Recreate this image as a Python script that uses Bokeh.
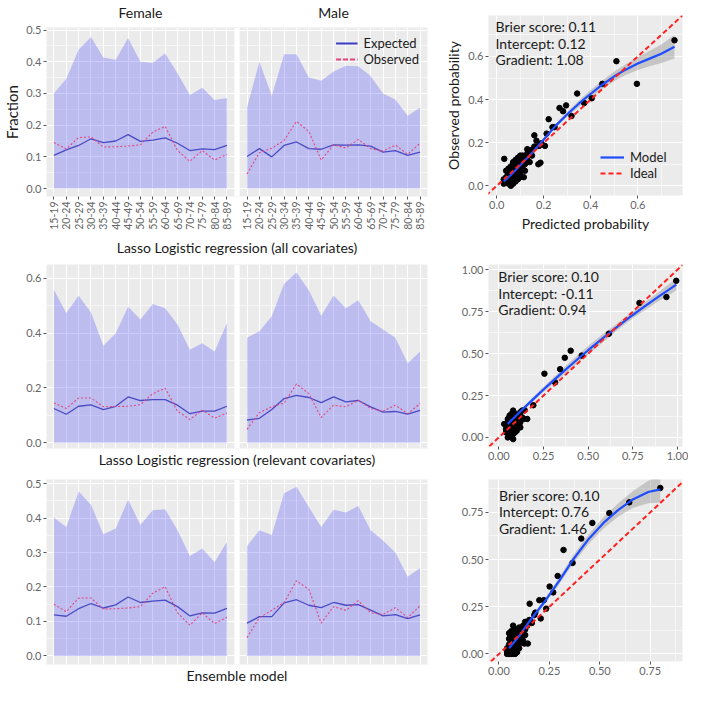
import math
from bokeh.plotting import figure
from bokeh.layouts import row, column
from bokeh.models import (Range1d, FixedTicker, LinearAxis, Legend, LegendItem,
                          Label, Slope, BoxAnnotation, PrintfTickFormatter)
from bokeh.embed import file_html
from bokeh.resources import INLINE

FONT = "Lato"
BG = "#EBEBEB"
TICK_C = "#666666"
TXT_C = "#1a1a1a"
EXP_C = "#4a4ac4"
OBS_C = "#e4457c"
BLUE = "#1f4cff"
RED = "#ff2020"

# ---------------- data ----------------
age_groups = ["15-19", "20-24", "25-29", "30-34", "35-39", "40-44", "45-49", "50-54",
              "55-59", "60-64", "65-69", "70-74", "75-79", "80-84", "85-89"]
sexes = ["Female", "Male"]
row_titles = ["Lasso Logistic regression (all covariates)",
              "Lasso Logistic regression (relevant covariates)",
              "Ensemble model"]

r1_female_upper = [0.300, 0.346, 0.438, 0.478, 0.413, 0.406, 0.475, 0.400, 0.397, 0.426, 0.364, 0.295, 0.318, 0.279, 0.286]
r1_female_expected = [0.105, 0.122, 0.136, 0.157, 0.145, 0.150, 0.170, 0.149, 0.153, 0.160, 0.143, 0.120, 0.125, 0.123, 0.136]
r1_female_observed = [0.145, 0.125, 0.161, 0.163, 0.131, 0.132, 0.134, 0.138, 0.178, 0.196, 0.120, 0.086, 0.120, 0.090, 0.108]
r1_male_upper = [0.256, 0.400, 0.293, 0.424, 0.424, 0.350, 0.340, 0.369, 0.387, 0.386, 0.355, 0.300, 0.281, 0.230, 0.256]
r1_male_expected = [0.101, 0.126, 0.100, 0.136, 0.147, 0.126, 0.124, 0.138, 0.137, 0.138, 0.134, 0.115, 0.120, 0.105, 0.115]
r1_male_observed = [0.046, 0.113, 0.127, 0.152, 0.212, 0.180, 0.090, 0.138, 0.128, 0.155, 0.126, 0.118, 0.137, 0.108, 0.143]

r2_female_upper = [0.558, 0.473, 0.536, 0.475, 0.354, 0.399, 0.496, 0.449, 0.506, 0.490, 0.431, 0.339, 0.363, 0.333, 0.437]
r2_female_expected = [0.125, 0.104, 0.133, 0.138, 0.121, 0.133, 0.167, 0.154, 0.157, 0.157, 0.137, 0.106, 0.115, 0.115, 0.133]
r2_female_observed = [0.145, 0.125, 0.163, 0.163, 0.131, 0.132, 0.133, 0.139, 0.179, 0.199, 0.115, 0.085, 0.119, 0.090, 0.108]
r2_male_upper = [0.383, 0.407, 0.461, 0.580, 0.621, 0.556, 0.463, 0.537, 0.490, 0.520, 0.443, 0.413, 0.383, 0.290, 0.333]
r2_male_expected = [0.083, 0.089, 0.121, 0.161, 0.173, 0.165, 0.146, 0.167, 0.149, 0.154, 0.131, 0.112, 0.114, 0.104, 0.118]
r2_male_observed = [0.049, 0.110, 0.131, 0.145, 0.214, 0.179, 0.092, 0.137, 0.131, 0.155, 0.125, 0.115, 0.137, 0.106, 0.143]

r3_female_upper = [0.402, 0.374, 0.477, 0.439, 0.353, 0.370, 0.453, 0.381, 0.423, 0.426, 0.365, 0.290, 0.312, 0.272, 0.331]
r3_female_expected = [0.119, 0.115, 0.137, 0.152, 0.139, 0.148, 0.171, 0.155, 0.159, 0.162, 0.143, 0.116, 0.125, 0.124, 0.138]
r3_female_observed = [0.150, 0.128, 0.168, 0.168, 0.136, 0.137, 0.139, 0.143, 0.182, 0.201, 0.125, 0.089, 0.125, 0.094, 0.112]
r3_male_upper = [0.318, 0.365, 0.351, 0.472, 0.491, 0.432, 0.374, 0.424, 0.416, 0.435, 0.365, 0.335, 0.300, 0.230, 0.255]
r3_male_expected = [0.095, 0.114, 0.114, 0.154, 0.163, 0.147, 0.140, 0.155, 0.147, 0.149, 0.133, 0.116, 0.120, 0.108, 0.119]
r3_male_observed = [0.053, 0.111, 0.132, 0.155, 0.218, 0.193, 0.095, 0.143, 0.132, 0.160, 0.125, 0.120, 0.140, 0.111, 0.146]

# calibration panels
c1_pred = [0.756, 0.509, 0.596, 0.449, 0.404, 0.372, 0.342, 0.318, 0.295, 0.282, 0.267, 0.246, 0.237, 0.221,
           0.212, 0.205, 0.190, 0.180, 0.160, 0.169, 0.186, 0.177, 0.160, 0.147, 0.115, 0.032,
           0.03, 0.04, 0.04, 0.05, 0.05, 0.05, 0.06, 0.06, 0.06, 0.06, 0.07, 0.07, 0.07, 0.07, 0.08, 0.08, 0.08,
           0.08, 0.09, 0.09, 0.09, 0.10, 0.10, 0.10, 0.11, 0.11, 0.12, 0.12, 0.13, 0.13, 0.14, 0.14, 0.15, 0.05,
           0.06, 0.07, 0.08, 0.09, 0.10, 0.11, 0.04, 0.03, 0.06, 0.07, 0.09, 0.12, 0.13, 0.10, 0.08, 0.05]
c1_obs = [0.675, 0.578, 0.473, 0.473, 0.406, 0.384, 0.428, 0.324, 0.373, 0.346, 0.361, 0.272, 0.272, 0.309,
          0.242, 0.185, 0.197, 0.185, 0.234, 0.209, 0.107, 0.100, 0.182, 0.167, 0.040, 0.125,
          0.01, 0.02, 0.04, 0.01, 0.03, 0.06, 0.02, 0.05, 0.07, 0.09, 0.03, 0.06, 0.08, 0.11, 0.04, 0.07, 0.09,
          0.12, 0.05, 0.08, 0.13, 0.06, 0.09, 0.12, 0.08, 0.11, 0.10, 0.13, 0.12, 0.15, 0.11, 0.16, 0.14, 0.05,
          0.03, 0.10, 0.02, 0.10, 0.04, 0.14, 0.07, 0.03, 0.00, 0.01, 0.03, 0.07, 0.17, 0.14, 0.05, 0.08]
c1_fit_x = [0.03, 0.06, 0.10, 0.15, 0.20, 0.25, 0.30, 0.35, 0.40, 0.45, 0.50, 0.55, 0.60, 0.65, 0.70, 0.756]
c1_fit_y = [0.020, 0.050, 0.095, 0.152, 0.215, 0.278, 0.332, 0.382, 0.427, 0.470, 0.508, 0.540, 0.567, 0.590, 0.613, 0.645]
c1_fit_se = [0.006, 0.005, 0.005, 0.006, 0.008, 0.010, 0.012, 0.015, 0.018, 0.020, 0.022, 0.025, 0.030, 0.036, 0.043, 0.055]
c1_stats = ["Brier score: 0.11", "Intercept: 0.12", "Gradient: 1.08"]

c2_pred = [0.993, 0.938, 0.787, 0.616, 0.464, 0.402, 0.369, 0.343, 0.315, 0.255, 0.193, 0.144, 0.159,
           0.03, 0.04, 0.05, 0.05, 0.06, 0.06, 0.06, 0.07, 0.07, 0.07, 0.07, 0.08, 0.08, 0.08, 0.08, 0.08,
           0.09, 0.09, 0.09, 0.09, 0.10, 0.10, 0.10, 0.11, 0.11, 0.12, 0.12, 0.13, 0.05, 0.06, 0.07, 0.08,
           0.09, 0.10, 0.11, 0.04, 0.07, 0.08, 0.09, 0.12, 0.14, 0.06, 0.10, 0.13, 0.05]
c2_obs = [0.934, 0.837, 0.802, 0.618, 0.488, 0.517, 0.475, 0.407, 0.328, 0.380, 0.192, 0.163, 0.110,
          0.08, 0.03, 0.06, 0.11, 0.05, 0.09, 0.13, 0.04, 0.07, 0.10, 0.14, 0.02, 0.06, 0.08, 0.12, 0.16,
          0.05, 0.09, 0.11, 0.14, 0.04, 0.08, 0.12, 0.07, 0.10, 0.09, 0.15, 0.12, 0.00, 0.01, 0.02, -0.01,
          0.03, 0.06, 0.13, 0.05, 0.12, 0.10, 0.07, 0.06, 0.11, 0.07, 0.10, 0.16, 0.09]
c2_fit_x = [0.05, 0.10, 0.15, 0.20, 0.25, 0.30, 0.35, 0.40, 0.45, 0.50, 0.55, 0.60, 0.65, 0.70, 0.75,
            0.80, 0.85, 0.90, 0.95, 0.993]
c2_fit_y = [0.081, 0.134, 0.185, 0.236, 0.286, 0.334, 0.382, 0.429, 0.475, 0.520, 0.564, 0.607, 0.649,
            0.690, 0.730, 0.769, 0.807, 0.844, 0.880, 0.911]
c2_fit_se = [0.012, 0.012, 0.012, 0.014, 0.016, 0.018, 0.020, 0.022, 0.024, 0.025, 0.025, 0.024, 0.022,
             0.020, 0.020, 0.022, 0.025, 0.028, 0.032, 0.035]
c2_stats = ["Brier score: 0.10", "Intercept: -0.11", "Gradient: 0.94"]

c3_pred = [0.800, 0.646, 0.547, 0.463, 0.408, 0.365, 0.320, 0.291, 0.269, 0.251, 0.234, 0.222, 0.200,
           0.207, 0.180, 0.175, 0.152, 0.163, 0.143, 0.126,
           0.04, 0.04, 0.05, 0.05, 0.05, 0.05, 0.06, 0.06, 0.06, 0.06, 0.06, 0.07, 0.07, 0.07, 0.07, 0.08,
           0.08, 0.08, 0.08, 0.09, 0.09, 0.09, 0.10, 0.10, 0.10, 0.11, 0.11, 0.12, 0.12, 0.13, 0.13, 0.14,
           0.15, 0.16, 0.05, 0.06, 0.07, 0.08, 0.09, 0.11, 0.12, 0.10, 0.04, 0.07, 0.13, 0.06, 0.08]
c3_obs = [0.879, 0.803, 0.746, 0.694, 0.611, 0.482, 0.551, 0.413, 0.326, 0.357, 0.240, 0.285, 0.285,
          0.188, 0.219, 0.206, 0.266, 0.164, 0.055, 0.055,
          0.00, 0.03, 0.00, 0.02, 0.05, 0.08, 0.01, 0.03, 0.06, 0.09, 0.12, 0.00, 0.04, 0.07, 0.10, 0.02,
          0.05, 0.09, 0.13, 0.04, 0.08, 0.12, 0.06, 0.10, 0.14, 0.09, 0.12, 0.11, 0.15, 0.13, 0.17, 0.15,
          0.18, 0.17, 0.11, 0.00, 0.02, 0.00, 0.01, 0.06, 0.07, 0.03, 0.01, 0.15, 0.10, 0.04, 0.11]
c3_fit_x = [0.05, 0.10, 0.148, 0.222, 0.296, 0.370, 0.444, 0.518, 0.592, 0.666, 0.740, 0.800]
c3_fit_y = [0.030, 0.095, 0.168, 0.271, 0.383, 0.504, 0.608, 0.694, 0.763, 0.820, 0.858, 0.872]
c3_fit_se = [0.010, 0.010, 0.012, 0.015, 0.018, 0.022, 0.025, 0.030, 0.035, 0.045, 0.060, 0.070]
c3_stats = ["Brier score: 0.10", "Intercept: 0.76", "Gradient: 1.46"]

# ---------------- helpers ----------------
N = len(age_groups)
MALE_OFFSET = 15.625
x_female = [float(i) for i in range(N)]
x_male = [i + MALE_OFFSET for i in range(N)]
PAD = 0.6


def base_axes(p):
    for ax in p.axis:
        ax.axis_line_color = None
        ax.major_tick_line_color = "#555555"
        ax.major_tick_in = 0
        ax.major_tick_out = 3
        ax.minor_tick_line_color = None
        ax.major_label_text_font = FONT
        ax.major_label_text_color = TICK_C
        ax.major_label_text_font_size = "11px"
        ax.major_label_standoff = 2
        ax.axis_label_text_font = FONT
        ax.axis_label_text_font_style = "normal"
        ax.axis_label_text_color = TXT_C
        ax.axis_label_text_font_size = "14px"


def left_panel(height, yr, yticks, yminor, data, title, bt, bb, top=False):
    fu, fe, fo, mu, me, mo = data
    p = figure(width=442, height=height,
               x_range=Range1d(-PAD, N - 1 + MALE_OFFSET + PAD), y_range=Range1d(*yr),
               output_backend="svg", toolbar_location=None,
               background_fill_color=BG, border_fill_color="white", outline_line_color=None,
               min_border_left=29, min_border_right=15, min_border_top=bt, min_border_bottom=bb)
    base_axes(p)
    p.xgrid.ticker = FixedTicker(ticks=x_female + x_male)
    p.xgrid.grid_line_color = "white"
    p.xgrid.grid_line_width = 1
    p.ygrid.ticker = FixedTicker(ticks=yticks, minor_ticks=yminor)
    p.ygrid.grid_line_color = "white"
    p.ygrid.minor_grid_line_color = "white"
    p.ygrid.minor_grid_line_alpha = 0.55
    p.yaxis.ticker = FixedTicker(ticks=yticks)
    p.yaxis.formatter = PrintfTickFormatter(format="%.1f")
    # white strip between the two facets
    p.add_layout(BoxAnnotation(left=N - 1 + PAD, right=MALE_OFFSET - PAD,
                               fill_color="white", fill_alpha=1.0, line_color=None))

    for xs, up, ex, ob in ((x_female, fu, fe, fo), (x_male, mu, me, mo)):
        p.varea(x=xs, y1=0, y2=up, fill_color="blue", fill_alpha=0.2)
        p.line(xs, ex, line_color=EXP_C, line_width=1.3)
        p.line(xs, ob, line_color=OBS_C, line_width=1.1, line_dash="2 2")

    p.xaxis.axis_label = title
    p.xaxis.axis_label_standoff = 6 if top else 2
    if top:
        p.xaxis.ticker = FixedTicker(ticks=x_female + x_male)
        overrides = {}
        for i, lab in enumerate(age_groups):
            overrides[x_female[i]] = lab
            overrides[x_male[i]] = lab
        p.xaxis.major_label_overrides = overrides
        p.xaxis.major_label_orientation = math.pi / 2
        p.xaxis.major_label_text_font_size = "10.5px"
        p.yaxis.axis_label = "Fraction"
        p.yaxis.axis_label_standoff = 2
        p.yaxis.axis_label_text_font_size = "15px"
        centers = [(N - 1) / 2, (N - 1) / 2 + MALE_OFFSET]
        top_ax = LinearAxis(ticker=FixedTicker(ticks=centers),
                            major_label_overrides={centers[0]: sexes[0], centers[1]: sexes[1]},
                            axis_line_color=None, major_tick_line_color=None, minor_tick_line_color=None,
                            major_label_text_font=FONT, major_label_text_font_size="14px",
                            major_label_text_color=TXT_C, major_label_standoff=1)
        p.add_layout(top_ax, "above")
        nan = float("nan")
        pe = p.line([nan], [nan], line_color="#3c3cc8", line_width=2)
        po = p.line([nan], [nan], line_color=OBS_C, line_width=2, line_dash="5 2")
        leg = Legend(items=[LegendItem(label="Expected", renderers=[pe]),
                            LegendItem(label="Observed", renderers=[po])],
                     location="top_right", background_fill_alpha=0, border_line_color=None,
                     label_text_font=FONT, label_text_font_size="13px", label_text_color=TXT_C,
                     glyph_width=22, glyph_height=14, label_height=14, spacing=0, padding=2, margin=8,
                     label_standoff=6)
        p.add_layout(leg)
    else:
        p.xaxis.ticker = FixedTicker(ticks=[])
        p.xaxis.major_tick_line_color = None
    return p


def cal_panel(height, xr, yr, ticks, minor, fmt, px, py, fx, fy, fse, stats, stat_x, stat_y,
              bt, bb, bl, labels=False):
    p = figure(width=246, height=height, x_range=Range1d(*xr), y_range=Range1d(*yr),
               output_backend="svg", toolbar_location=None,
               background_fill_color=BG, border_fill_color="white", outline_line_color=None,
               min_border_left=bl, min_border_right=6, min_border_top=bt, min_border_bottom=bb)
    base_axes(p)
    for g in (p.xgrid, p.ygrid):
        g.ticker = FixedTicker(ticks=ticks, minor_ticks=minor)
        g.grid_line_color = "white"
        g.minor_grid_line_color = "white"
        g.minor_grid_line_alpha = 0.55
    for ax in p.axis:
        ax.ticker = FixedTicker(ticks=ticks)
        ax.formatter = PrintfTickFormatter(format=fmt)
    lo = [a - b for a, b in zip(fy, fse)]
    hi = [a + b for a, b in zip(fy, fse)]
    p.varea(x=fx, y1=lo, y2=hi, fill_color="#8c8c8c", fill_alpha=0.4)
    p.scatter(px, py, size=5.5, fill_color="black", line_color="black")
    rm = p.line(fx, fy, line_color=BLUE, line_width=2.2)
    p.add_layout(Slope(gradient=1, y_intercept=0, line_color=RED, line_width=2, line_dash="5 3"))
    for t, yv in zip(stats, stat_y):
        p.add_layout(Label(x=stat_x, y=yv, text=t, text_font=FONT, text_font_size="14px",
                           text_color=TXT_C, text_baseline="middle", text_align="left"))
    if labels:
        p.xaxis.axis_label = "Predicted probability"
        p.yaxis.axis_label = "Observed probability"
        p.xaxis.axis_label_standoff = 3
        p.yaxis.axis_label_standoff = 3
        nan = float("nan")
        pi_ = p.line([nan], [nan], line_color=RED, line_width=2, line_dash="5 3")
        leg = Legend(items=[LegendItem(label="Model", renderers=[rm]),
                            LegendItem(label="Ideal", renderers=[pi_])],
                     location=(112, 14), background_fill_alpha=0, border_line_color=None,
                     label_text_font=FONT, label_text_font_size="13px", label_text_color=TXT_C,
                     glyph_width=24, glyph_height=14, label_height=14, spacing=0, padding=2,
                     label_standoff=6)
        p.add_layout(leg)
    return p


L1 = left_panel(258, (-0.025, 0.508), [0, 0.1, 0.2, 0.3, 0.4, 0.5], [0.05, 0.15, 0.25, 0.35, 0.45],
                (r1_female_upper, r1_female_expected, r1_female_observed,
                 r1_male_upper, r1_male_expected, r1_male_observed),
                row_titles[0], 13, 57, top=True)
L2 = left_panel(212, (-0.021, 0.65), [0, 0.2, 0.4, 0.6], [0.1, 0.3, 0.5],
                (r2_female_upper, r2_female_expected, r2_female_observed,
                 r2_male_upper, r2_male_expected, r2_male_observed),
                row_titles[1], 6, 22)
L3 = left_panel(216, (-0.025, 0.512), [0, 0.1, 0.2, 0.3, 0.4, 0.5], [0.05, 0.15, 0.25, 0.35, 0.45],
                (r3_female_upper, r3_female_expected, r3_female_observed,
                 r3_male_upper, r3_male_expected, r3_male_observed),
                row_titles[2], 9, 19)

R1 = cal_panel(234, (-0.035, 0.79), (-0.045, 0.79), [0, 0.2, 0.4, 0.6], [0.1, 0.3, 0.5, 0.7], "%.1f",
               c1_pred, c1_obs, c1_fit_x, c1_fit_y, c1_fit_se, c1_stats, -0.005, [0.739, 0.662, 0.586],
               15, 37, 32, labels=True)
R2 = cal_panel(230, (-0.058, 1.028), (-0.054, 1.031), [0, 0.25, 0.5, 0.75, 1.0],
               [0.125, 0.375, 0.625, 0.875], "%.2f",
               c2_pred, c2_obs, c2_fit_x, c2_fit_y, c2_fit_se, c2_stats, -0.003, [0.957, 0.860, 0.764],
               30, 18, 29)
R3 = cal_panel(222, (-0.052, 0.91), (-0.04, 0.924), [0, 0.25, 0.5, 0.75], [0.125, 0.375, 0.625, 0.875],
               "%.2f",
               c3_pred, c3_obs, c3_fit_x, c3_fit_y, c3_fit_se, c3_stats, 0.0, [0.841, 0.755, 0.665],
               15, 25, 29)

layout = row(column(L1, L2, L3), column(R1, R2, R3))
open("out.html", "w").write(file_html(layout, INLINE))
